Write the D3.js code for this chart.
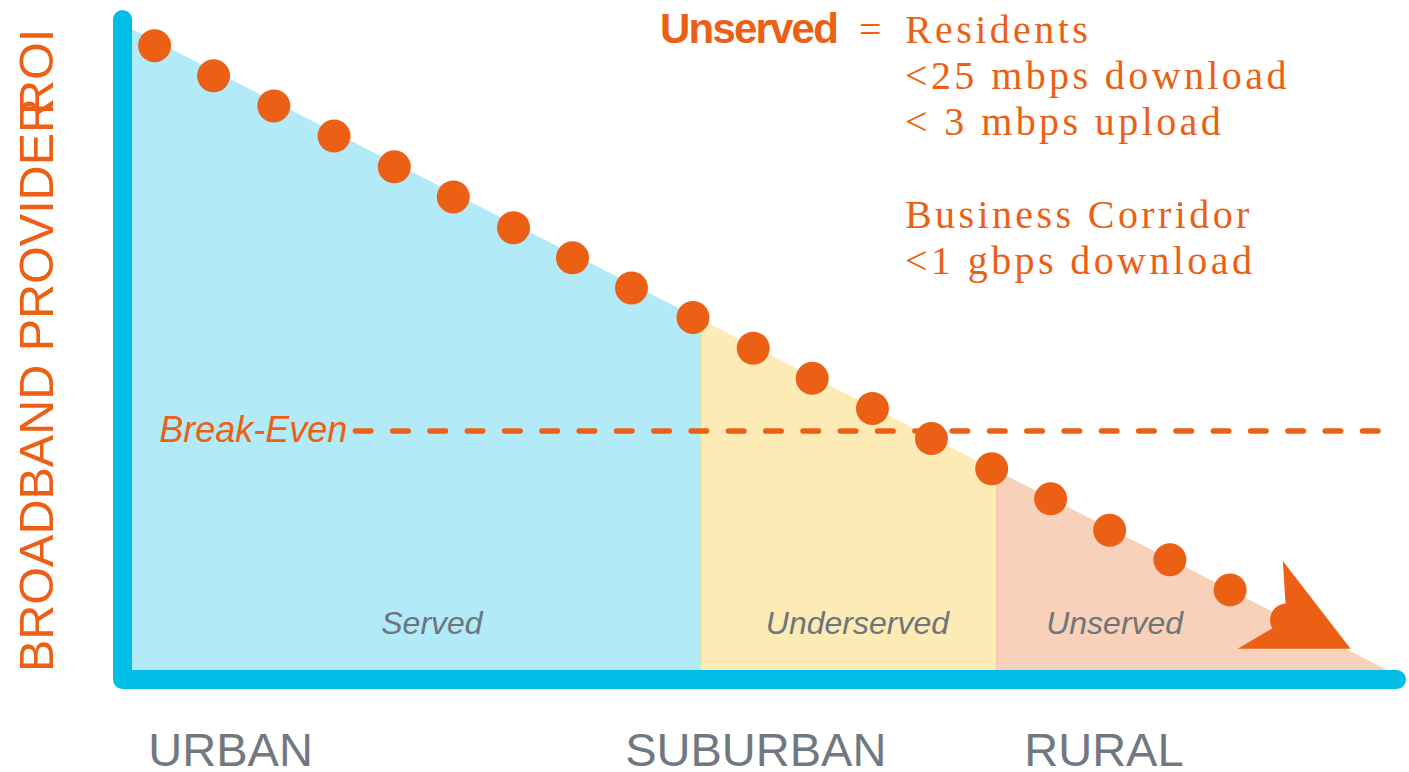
<!DOCTYPE html>
<html>
<head>
<meta charset="utf-8">
<script src="https://cdnjs.cloudflare.com/ajax/libs/d3/7.8.5/d3.min.js"></script>
<style>
  html, body { margin: 0; padding: 0; background: #fff; }
  svg { display: block; }
</style>
</head>
<body>
<div id="chart"></div>
<script>
// data
var categories = ['URBAN', 'SUBURBAN', 'RURAL'];
var category_x = [1.3, 39.3, 71.1];

var zones = ['Served', 'Underserved', 'Unserved'];
var zone_edges = [0, 45.3, 68.9, 100];
var zone_label_x = [23.9, 57.8, 78.3];

var roi_line_x = [0, 100];
var roi_line_y = [100, 0];

var roi_x = [1.8, 6.5, 11.3, 16.1, 20.9, 25.6, 30.4, 35.1, 39.8, 44.7,
             49.5, 54.2, 59.0, 63.7, 68.5, 73.2, 77.9, 82.7, 87.5, 92.0];
var roi_y = [97.4, 92.7, 88.0, 83.3, 78.5, 73.8, 69.0, 64.3, 59.6, 55.0,
             50.2, 45.5, 40.8, 36.1, 31.4, 26.7, 21.8, 17.2, 12.5, 7.8];

var arrow_x = [91.7, 97.1, 88.1, 92.0];
var arrow_y = [17.0, 3.3, 3.3, 7.8];

var break_even = 37.3;
var break_even_x = [17.8, 99.8];

var definition_title = 'Unserved';
var definition_lines = ['Residents', '<25 mbps download', '< 3 mbps upload', '',
                        'Business Corridor', '<1 gbps download'];

(function (d3) {

  var WIDTH = 1409;
  var HEIGHT = 772;
  var AXIS_WIDTH = 19;

  var ORANGE = '#ec6015';
  var AXIS_BLUE = '#00bde8';
  var GRAY = '#71787f';
  var ZONE_FILLS = ['#b2eaf7', '#fdebb6', '#f8d1ba'];
  var ZONE_EDGES = [null, '#d3e6b4', '#f6c7a2'];

  var x = d3.scaleLinear().domain([0, 100]).range([132, 1387]);
  var y = d3.scaleLinear().domain([0, 100]).range([670, 29]);
  var roi_top = d3.scaleLinear().domain(roi_line_x).range(roi_line_y);

  var svg = d3.select('#chart').append('svg')
      .attr('width', WIDTH)
      .attr('height', HEIGHT);

  // shaded zones under the ROI slope
  var zone_data = zones.map(function (name, i) {
    return { name: name, x0: zone_edges[i], x1: zone_edges[i + 1], i: i };
  });

  svg.selectAll('path.zone')
      .data(zone_data)
      .enter().append('path')
      .attr('class', 'zone')
      .attr('fill', function (d) { return ZONE_FILLS[d.i]; })
      .attr('d', function (d) {
        return d3.line()([
          [x(d.x0), y(0)],
          [x(d.x0), y(roi_top(d.x0))],
          [x(d.x1), y(roi_top(d.x1))],
          [x(d.x1), y(0)]
        ]) + 'Z';
      });

  svg.selectAll('line.zone-edge')
      .data(zone_data.filter(function (d) { return d.i > 0; }))
      .enter().append('line')
      .attr('class', 'zone-edge')
      .attr('x1', function (d) { return x(d.x0); })
      .attr('x2', function (d) { return x(d.x0); })
      .attr('y1', function (d) { return y(roi_top(d.x0)); })
      .attr('y2', y(0))
      .attr('stroke', function (d) { return ZONE_EDGES[d.i]; })
      .attr('stroke-width', 1.5);

  svg.selectAll('text.zone-label')
      .data(zone_data)
      .enter().append('text')
      .attr('class', 'zone-label')
      .attr('x', function (d) { return x(zone_label_x[d.i]); })
      .attr('y', 634)
      .attr('text-anchor', 'middle')
      .attr('font-family', 'Liberation Sans, Arial, sans-serif')
      .attr('font-style', 'italic')
      .attr('font-size', 32)
      .attr('fill', '#6e757c')
      .text(function (d) { return d.name; });

  // break-even
  svg.append('line')
      .attr('x1', x(break_even_x[0]))
      .attr('x2', x(break_even_x[1]))
      .attr('y1', y(break_even))
      .attr('y2', y(break_even))
      .attr('stroke', ORANGE)
      .attr('stroke-width', 5.5)
      .attr('stroke-linecap', 'round')
      .attr('stroke-dasharray', '15.5,21.8');

  svg.append('text')
      .attr('x', x(break_even_x[0]) - 8)
      .attr('y', y(break_even) + 11)
      .attr('text-anchor', 'end')
      .attr('font-family', 'Liberation Sans, Arial, sans-serif')
      .attr('font-style', 'italic')
      .attr('font-size', 36)
      .attr('fill', ORANGE)
      .text('Break-Even');

  // arrow head + dots
  var arrow_pts = arrow_x.map(function (v, i) { return [x(v), y(arrow_y[i])]; });
  svg.append('path')
      .attr('d', d3.line()(arrow_pts) + 'Z')
      .attr('fill', ORANGE);

  svg.selectAll('circle.roi')
      .data(roi_x)
      .enter().append('circle')
      .attr('class', 'roi')
      .attr('cx', function (d) { return x(d); })
      .attr('cy', function (d, i) { return y(roi_y[i]); })
      .attr('r', 16.5)
      .attr('fill', ORANGE);

  // L shaped axis
  var off = AXIS_WIDTH / 2;
  svg.append('path')
      .attr('d', d3.line()([
        [x(0) - off, y(100) - off],
        [x(0) - off, y(0) + off],
        [x(100) + off, y(0) + off]
      ]))
      .attr('fill', 'none')
      .attr('stroke', AXIS_BLUE)
      .attr('stroke-width', AXIS_WIDTH)
      .attr('stroke-linecap', 'round')
      .attr('stroke-linejoin', 'round');

  svg.selectAll('text.category')
      .data(categories)
      .enter().append('text')
      .attr('class', 'category')
      .attr('x', function (d, i) { return x(category_x[i]); })
      .attr('y', 766)
      .attr('font-family', 'Liberation Sans, Arial, sans-serif')
      .attr('font-size', 47)
      .attr('fill', GRAY)
      .text(function (d) { return d; });

  // y label (the ROI word sits on top of the last R, as in the source)
  var ylab = svg.append('g')
      .attr('font-family', 'Liberation Sans, Arial, sans-serif')
      .attr('font-size', 48.5)
      .attr('fill', ORANGE);
  ylab.append('text')
      .attr('transform', 'translate(53,672) rotate(-90)')
      .text('BROADBAND PROVIDER');
  ylab.append('text')
      .attr('transform', 'translate(53,115) rotate(-90)')
      .text('ROI');

  // definition block
  svg.append('text')
      .attr('x', 660)
      .attr('y', 43)
      .attr('font-family', 'Liberation Sans, Arial, sans-serif')
      .attr('font-weight', 'bold')
      .attr('font-size', 42)
      .attr('letter-spacing', -1.8)
      .attr('fill', ORANGE)
      .text(definition_title);

  var serif = svg.append('g')
      .attr('font-family', 'Liberation Serif, Times New Roman, serif')
      .attr('font-size', 40)
      .attr('fill', ORANGE);

  serif.append('text')
      .attr('x', 859)
      .attr('y', 43)
      .text('=');

  serif.selectAll('text.def')
      .data(definition_lines)
      .enter().append('text')
      .attr('class', 'def')
      .attr('x', 905)
      .attr('y', function (d, i) { return 43 + i * 46.2; })
      .attr('letter-spacing', 3.4)
      .text(function (d) { return d; });

})(d3);
</script>
</body>
</html>
